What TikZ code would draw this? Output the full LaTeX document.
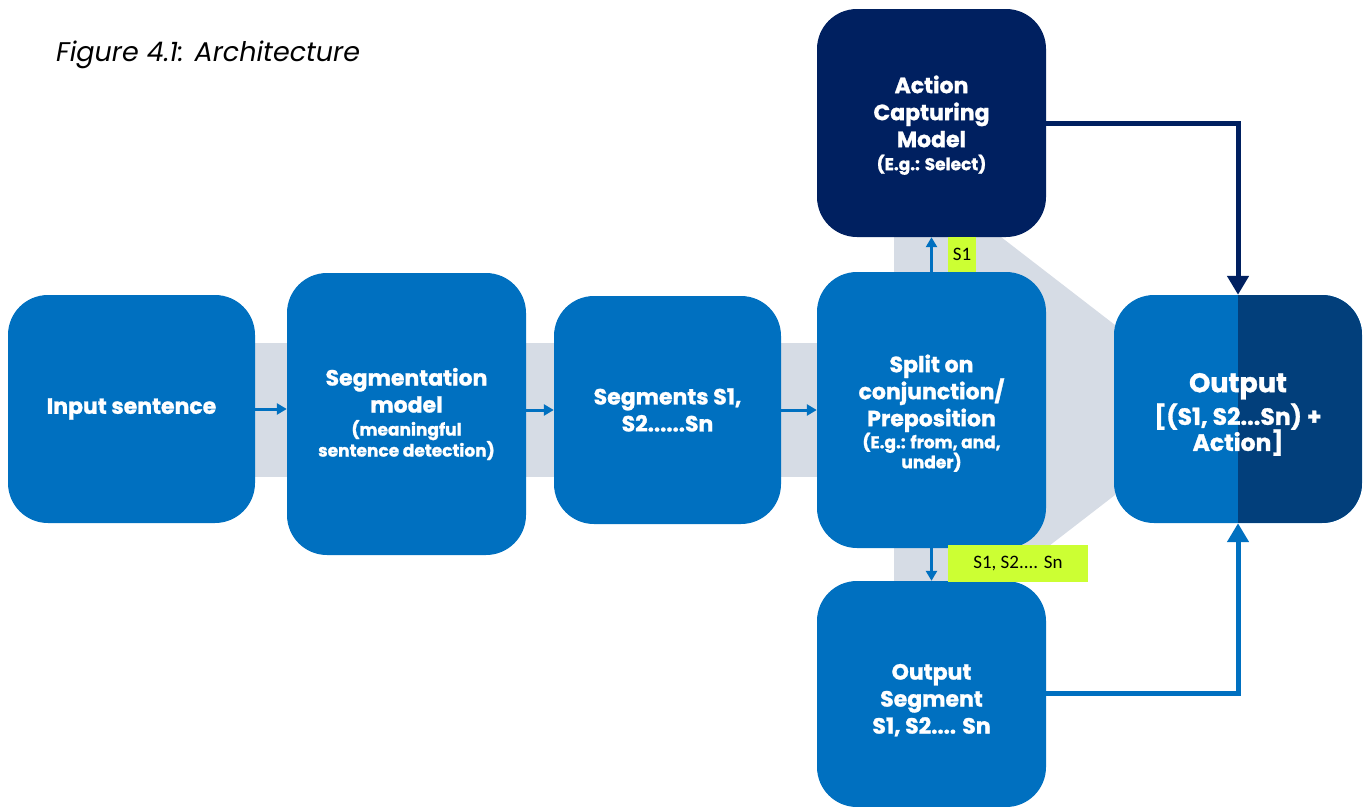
\documentclass[tikz,border=0pt]{standalone}
\usepackage{fontspec}
\setmainfont{Poppins}[BoldFeatures={FakeBold=1.2}]
\newfontfamily\labelfont{Carlito}
\usetikzlibrary{arrows.meta}
\definecolor{boxblue}{HTML}{0070C0}
\definecolor{navy}{HTML}{002060}
\definecolor{deepblue}{HTML}{023F7B}
\definecolor{bandgray}{HTML}{D6DCE5}
\definecolor{lime}{HTML}{CCFF33}
\newcommand{\subtxt}[1]{{\fontsize{17}{21}\selectfont #1}}
\newcommand{\outtxt}[1]{{\fontsize{23.5}{27}\selectfont #1}}
% invisible strut that pushes a text block a few points down
\newcommand{\lowerby}[1]{\rule{0pt}{#1}}
\begin{document}
\begin{tikzpicture}[x=1pt,y=-1pt,
  box/.style={fill=boxblue, rounded corners=40pt, text=white, align=center,
    inner sep=0pt, font=\bfseries\fontsize{22}{27}\selectfont},
  darkbox/.style={box, fill=navy},
  tag/.style={fill=lime, inner sep=0pt, text=black, font=\labelfont\fontsize{19}{22}\selectfont},
  thinarrow/.style={draw=boxblue, line width=3pt, -{Triangle[length=10pt,width=11pt]}},
  thickarrow/.style={line width=5pt, -{Triangle[length=19pt,width=21pt]}},
]
\useasboundingbox (0,0) rectangle (1364,806);

% caption
\node[anchor=west, font=\itshape\fontsize{27}{32}\selectfont, inner sep=0pt] (title) at (56,55) {Figure 4.1: Architecture};

% light grey band behind the pipeline
\fill[bandgray] (200,343) rectangle (900,477);
\fill[bandgray] (894,237) -- (1001,237) -- (1115,325) -- (1115,495) -- (1001,583) -- (894,583) -- cycle;

% processing blocks
\node[box, minimum width=247pt, minimum height=228pt] (in) at (131.5,409) {Input sentence};
\node[box, minimum width=239pt, minimum height=282pt] (seg) at (406.5,414)
  {Segmentation\\model\\[-4pt]\subtxt{(meaningful}\\[-6pt]\subtxt{sentence detection)}};
\node[box, minimum width=227pt, minimum height=228pt] (segs) at (667.5,410) {Segments S1,\\S2......Sn};
\node[box, minimum width=229pt, minimum height=276pt] (split) at (931.5,410)
  {\lowerby{24pt}Split on\\conjunction/\\Preposition\\[-5pt]\subtxt{(E.g.: from, and,}\\[-7pt]\subtxt{under)}};
\node[darkbox, minimum width=229pt, minimum height=228pt] (act) at (931.5,123)
  {\lowerby{22pt}Action\\Capturing\\Model\\[-4pt]\subtxt{(E.g.: Select)}};
\node[box, minimum width=229pt, minimum height=226pt] (oseg) at (931.5,694)
  {\lowerby{28pt}Output\\Segment\\S1, S2.... Sn};
\node[box, minimum width=248pt, minimum height=228pt,
  path picture={\fill[deepblue, sharp corners] (path picture bounding box.north) rectangle (path picture bounding box.south east);}]
  (out) at (1238,409)
  {\lowerby{30pt}{\fontsize{27}{32}\selectfont Output}\\[3pt]\outtxt{[(S1, S2...Sn) +}\\[-1pt]\outtxt{Action]}};

% segment tags
\node[tag, minimum width=28pt, minimum height=35pt] (s1tag) at (962,254.5) {S1};
\node[tag, minimum width=140pt, minimum height=37pt] (sntag) at (1018,563.5) {S1, S2.... Sn};

% connectors
\draw[thinarrow] (in.east) -- (in.east -| seg.west);
\draw[thinarrow] (segs.west -| seg.east) -- (segs.west);
\draw[thinarrow] (segs.east) -- (segs.east -| split.west);
\draw[thinarrow] (split.north) -- (act.south);
\draw[thinarrow] (split.south) -- (oseg.north);
\draw[thickarrow, navy] (act.east) -| (out.north);
\draw[thickarrow, boxblue] ([yshift=1pt]oseg.east) -| (out.south);
\end{tikzpicture}
\end{document}
